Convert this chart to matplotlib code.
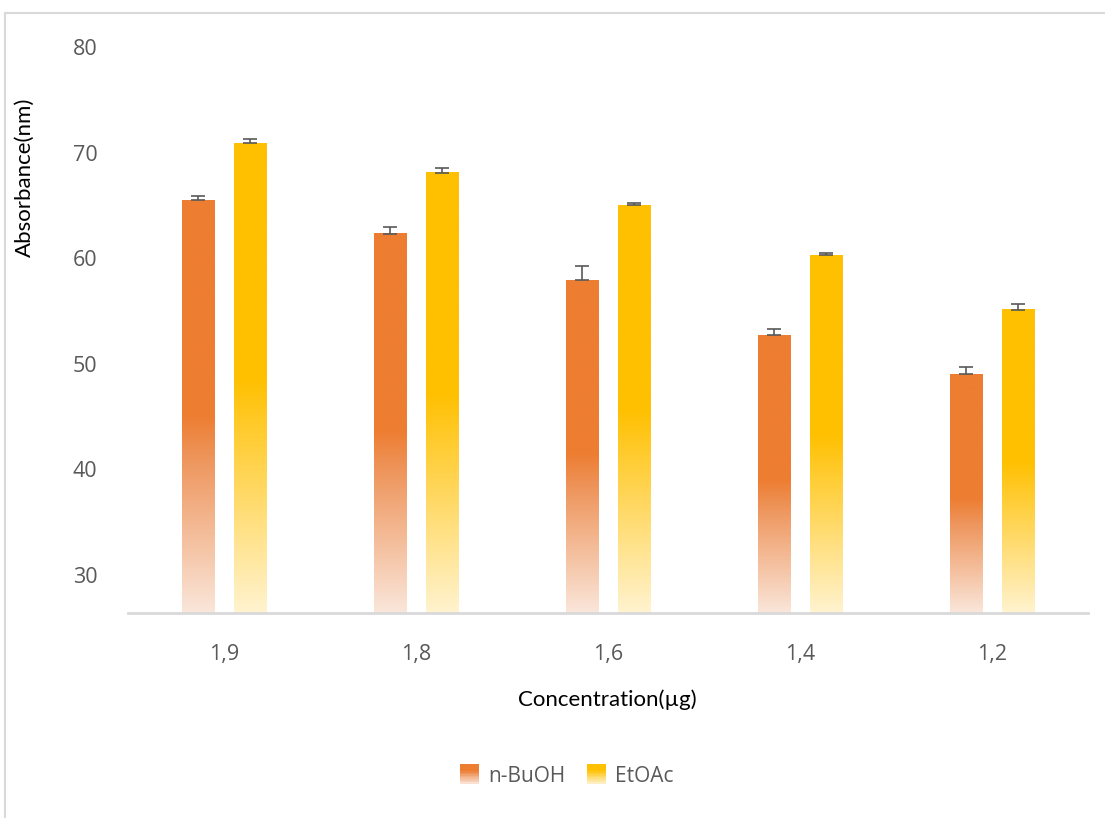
import numpy as np
import matplotlib
matplotlib.use("Agg")
from matplotlib import pyplot as plt
from matplotlib.colors import LinearSegmentedColormap
from matplotlib.patches import Rectangle
from matplotlib.legend_handler import HandlerBase

# data
concentrations = ["1,9", "1,8", "1,6", "1,4", "1,2"]
nbuoh = [65.5, 62.3, 57.9, 52.7, 49.0]
nbuoh_err = [0.4, 0.65, 1.35, 0.6, 0.65]
etoac = [70.9, 68.1, 65.0, 60.3, 55.1]
etoac_err = [0.35, 0.4, 0.2, 0.15, 0.6]

ORANGE = "#ED7D31"
YELLOW = "#FFC000"
GREY = "#595959"
YMIN, YMAX = 26.4, 80

# top -> bottom gradients (solid for the upper half, then fading)
cmap_orange = LinearSegmentedColormap.from_list(
    "o", [(0, ORANGE), (0.52, ORANGE), (0.62, "#EE945A"), (1, "#FAE6DA")])
cmap_yellow = LinearSegmentedColormap.from_list(
    "y", [(0, YELLOW), (0.5, YELLOW), (1, "#FFF3CF")])

plt.rcParams["font.family"] = ["Open Sans", "DejaVu Sans"]

fig = plt.figure(figsize=(11.05, 8.18), dpi=100)
ax = fig.add_axes([128 / 1105, 1 - 613 / 818, 960 / 1105, 566 / 818])

x = np.arange(len(concentrations))
width = 0.167
offset = 0.135
grad = np.linspace(0, 1, 256).reshape(-1, 1)


def gradient_bars(xs, vals, errs, cmap):
    for xi, v, e in zip(xs, vals, errs):
        ax.imshow(grad, cmap=cmap, extent=[xi - width / 2, xi + width / 2, YMIN, v],
                  aspect="auto", origin="upper", zorder=2, interpolation="bilinear")
    ax.errorbar(xs, vals, yerr=[np.zeros(len(vals)), errs], fmt="none",
                ecolor=GREY, elinewidth=1.2, capsize=4.7, capthick=1.2, zorder=3)


gradient_bars(x - offset, nbuoh, nbuoh_err, cmap_orange)
gradient_bars(x + offset, etoac, etoac_err, cmap_yellow)

ax.set_xlim(-0.5, len(concentrations) - 0.5)
ax.set_ylim(YMIN, YMAX)
ax.set_yticks([30, 40, 50, 60, 70, 80])
ax.set_xticks(x)
ax.set_xticklabels(concentrations)
ax.tick_params(axis="both", length=0, labelsize=15.5, labelcolor=GREY)
ax.tick_params(axis="y", pad=22)
ax.tick_params(axis="x", pad=22)
for s in ["left", "right", "top"]:
    ax.spines[s].set_visible(False)
ax.spines["bottom"].set_color("#D9D9D9")
ax.spines["bottom"].set_linewidth(2)

fig.text(607 / 1105, 1 - 700 / 818, "Concentration(µg)", ha="center", va="center",
         fontsize=16, family=["Lato", "DejaVu Sans"], color="black")
fig.text(25 / 1105, 1 - 177 / 818, "Absorbance(nm)", ha="center", va="center",
         rotation=90, fontsize=16, family=["Lato", "DejaVu Sans"], color="black")


class GradientHandle(HandlerBase):
    def __init__(self, cmap):
        super().__init__()
        self.cmap = cmap

    def create_artists(self, legend, orig_handle, xdescent, ydescent, width, height,
                       fontsize, trans):
        n = 12
        size = height * 1.3
        x0 = -xdescent + (width - size)
        y0 = -ydescent + (height - size) / 2
        arts = []
        for i in range(n):
            # map the square onto the lower-mid part of the bar gradient
            c = self.cmap(0.3 + 0.7 * (1 - (i + 0.5) / n))
            arts.append(Rectangle((x0, y0 + size * i / n), size, size / n + 0.2,
                                  facecolor=c, edgecolor="none", transform=trans))
        return arts


h1 = Rectangle((0, 0), 1, 1)
h2 = Rectangle((0, 0), 1, 1)
fig.legend([h1, h2], ["n-BuOH", "EtOAc"], loc="center", bbox_to_anchor=(566 / 1105, 1 - 776 / 818),
           ncol=2, frameon=False, fontsize=15, labelcolor=GREY,
           handler_map={h1: GradientHandle(cmap_orange), h2: GradientHandle(cmap_yellow)},
           handlelength=1.0, handletextpad=0.45, columnspacing=0.9)

# outer chart border (cropped on the right and bottom in the reference)
fig.patches.append(Rectangle((5 / 1105, -0.1), 1.2, 1.1 - 13 / 818, transform=fig.transFigure,
                             fill=False, edgecolor="#D9D9D9", linewidth=1.5))

fig.savefig("out.png", dpi=100)
